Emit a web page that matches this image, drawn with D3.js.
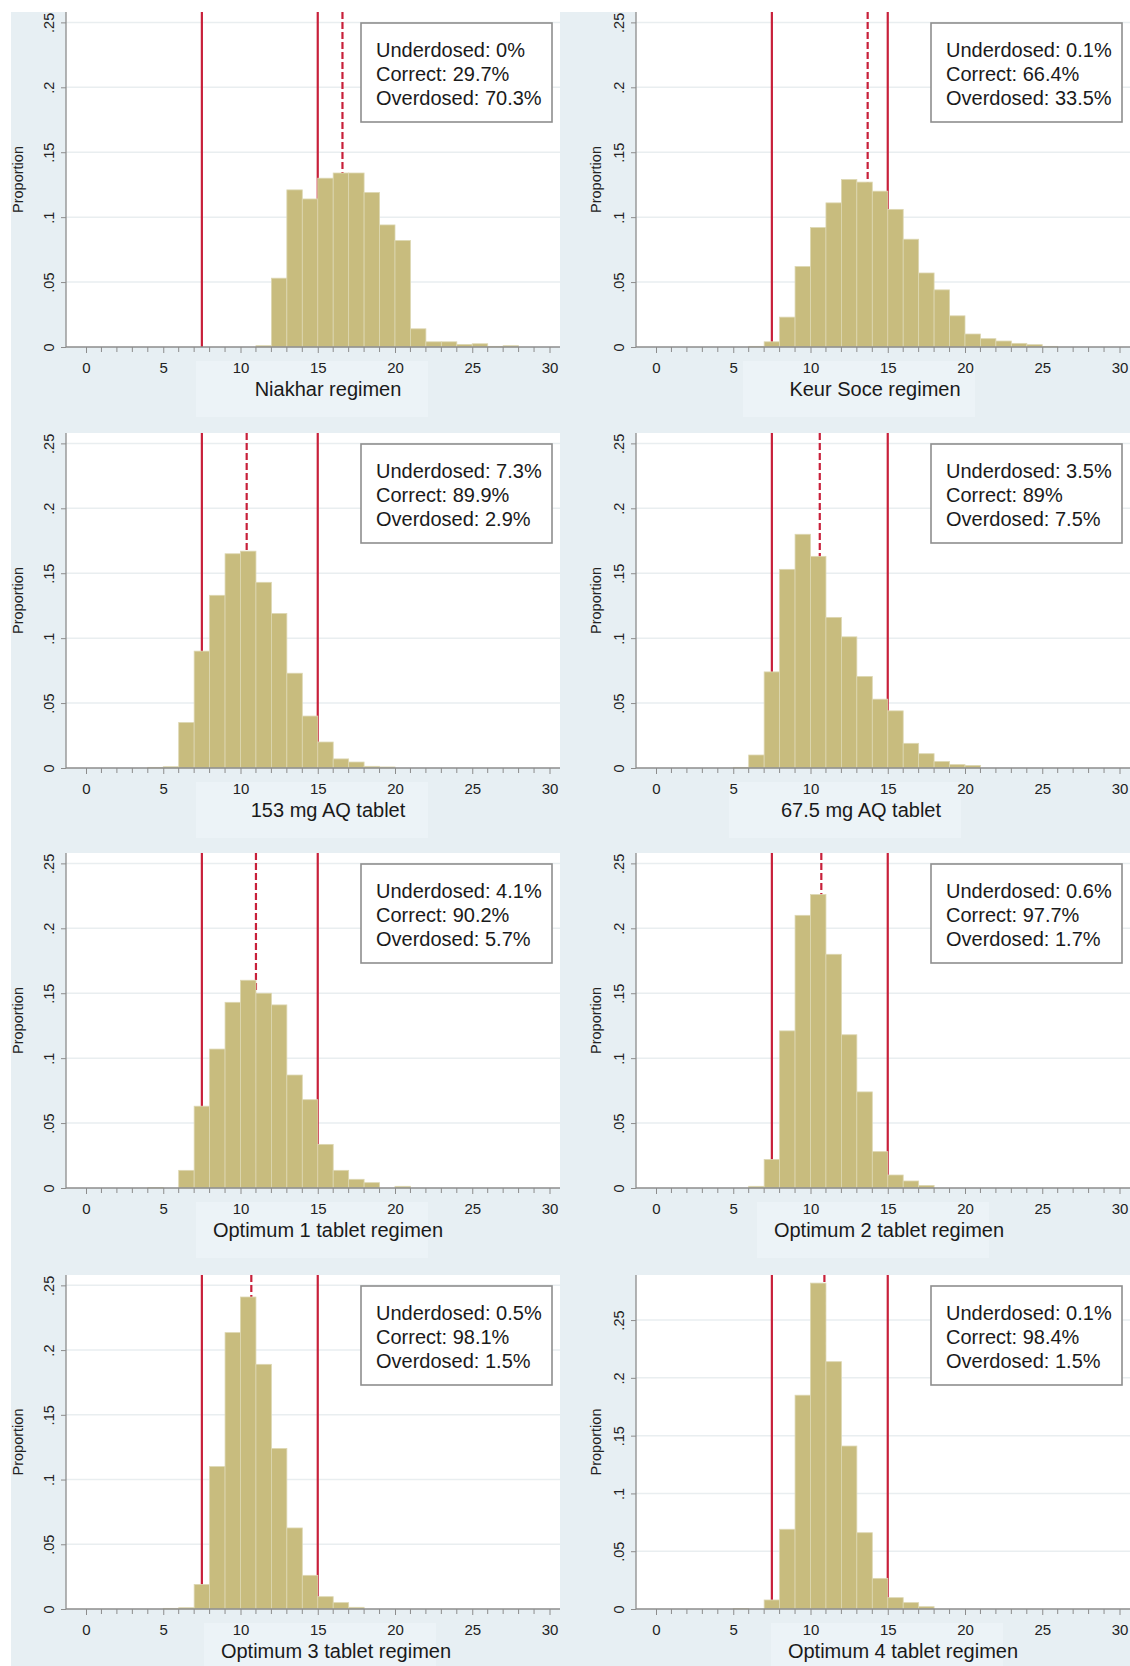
<!DOCTYPE html>
<html>
<head>
<meta charset="utf-8">
<script src="https://cdn.jsdelivr.net/npm/d3@7"></script>
<style>
  body { margin: 0; background: #fff; }
  svg { display: block; font-family: "Liberation Sans", Arial, Helvetica, sans-serif; }
</style>
</head>
<body>
<div id="chart"></div>
<script>
// ---- data ----
const titles = [
  "Niakhar regimen", "Keur Soce regimen",
  "153 mg AQ tablet", "67.5 mg AQ tablet",
  "Optimum 1 tablet regimen", "Optimum 2 tablet regimen",
  "Optimum 3 tablet regimen", "Optimum 4 tablet regimen",
];

// left edge of each 1-unit bin (dose, mg/kg)
const binStarts = [0, 1, 2, 3, 4, 5, 6, 7, 8, 9, 10, 11, 12, 13, 14, 15, 16, 17, 18, 19, 20, 21, 22, 23, 24, 25, 26, 27, 28, 29];

// proportion in each bin
const niakhar  = [0, 0, 0, 0, 0, 0, 0, 0, 0, 0, 0, 0.001, 0.053, 0.121, 0.114, 0.130, 0.134, 0.134, 0.119, 0.094, 0.082, 0.014, 0.004, 0.004, 0.002, 0.0025, 0.0005, 0.001, 0, 0];
const keurSoce = [0, 0, 0, 0, 0, 0, 0.0005, 0.004, 0.023, 0.062, 0.092, 0.111, 0.129, 0.127, 0.120, 0.106, 0.083, 0.057, 0.044, 0.024, 0.010, 0.0064, 0.0046, 0.0028, 0.0018, 0.0005, 0, 0, 0, 0];
const aq153    = [0, 0, 0, 0, 0.0005, 0.001, 0.035, 0.090, 0.133, 0.165, 0.167, 0.143, 0.119, 0.073, 0.040, 0.020, 0.007, 0.0046, 0.0013, 0.0008, 0, 0, 0, 0, 0, 0, 0, 0, 0, 0];
const aq675    = [0, 0, 0, 0, 0, 0.0005, 0.010, 0.074, 0.153, 0.180, 0.163, 0.116, 0.101, 0.0705, 0.053, 0.044, 0.019, 0.011, 0.005, 0.0026, 0.002, 0, 0, 0, 0, 0, 0, 0, 0, 0];
const opt1     = [0, 0, 0, 0, 0.0003, 0, 0.0136, 0.063, 0.107, 0.143, 0.160, 0.150, 0.141, 0.087, 0.068, 0.0336, 0.0136, 0.0067, 0.0041, 0, 0.0013, 0, 0, 0, 0, 0, 0, 0, 0, 0];
const opt2     = [0, 0, 0, 0, 0, 0, 0.0013, 0.022, 0.121, 0.210, 0.226, 0.180, 0.118, 0.074, 0.028, 0.010, 0.0054, 0.002, 0, 0, 0, 0, 0, 0, 0, 0, 0, 0, 0, 0];
const opt3     = [0, 0, 0, 0, 0, 0.0005, 0.001, 0.019, 0.110, 0.2135, 0.241, 0.189, 0.124, 0.0626, 0.026, 0.0095, 0.0049, 0.0013, 0, 0, 0, 0, 0, 0, 0, 0, 0, 0, 0, 0];
const opt4     = [0, 0, 0, 0, 0, 0.0005, 0, 0.0078, 0.069, 0.185, 0.282, 0.214, 0.141, 0.066, 0.0265, 0.0098, 0.0055, 0.002, 0, 0, 0, 0, 0, 0, 0, 0, 0, 0, 0, 0];
const series = [niakhar, keurSoce, aq153, aq675, opt1, opt2, opt3, opt4];

const underdosed = ["0%", "0.1%", "7.3%", "3.5%", "4.1%", "0.6%", "0.5%", "0.1%"];
const correct    = ["29.7%", "66.4%", "89.9%", "89%", "90.2%", "97.7%", "98.1%", "98.4%"];
const overdosed  = ["70.3%", "33.5%", "2.9%", "7.5%", "5.7%", "1.7%", "1.5%", "1.5%"];

const meanDose = [16.6, 13.7, 10.4, 10.6, 11.0, 10.7, 10.7, 10.9]; // dashed line
const limits = [7.5, 15]; // solid lines
const yTop = [0.258, 0.258, 0.258, 0.258, 0.258, 0.258, 0.258, 0.289];

const yTicks = [0, 0.05, 0.1, 0.15, 0.2, 0.25];
const yTickLabels = ["0", ".05", ".1", ".15", ".2", ".25"];
const xMajor = [0, 5, 10, 15, 20, 25, 30];
const xMinor = [1, 2, 3, 4, 6, 7, 8, 9, 11, 12, 13, 14, 16, 17, 18, 19, 21, 22, 23, 24, 26, 27, 28, 29];

// ---- layout ----
const WIDTH = 1130, HEIGHT = 1666;
const AXIS_X = [66, 636];
const PROP_X = [18, 596];
const ROW_TOP = [12, 433, 853, 1275];
const ROW_BOTTOM = [347, 768, 1188, 1609];
const PLOT_W = 494;
const ZERO_PAD = 20;
const UNIT = 15.45;
const TITLE_X = [328, 875, 328, 861, 328, 889, 336, 903];

const BG = "#e7eff3", RED = "#c8203a", BAR = "#c8bc7e", BAR_EDGE = "#ddd7b2";

const svg = d3.select("#chart").append("svg")
  .attr("width", WIDTH)
  .attr("height", HEIGHT);

svg.append("rect").attr("width", WIDTH).attr("height", HEIGHT).attr("fill", "#fff");
svg.append("rect").attr("x", 11).attr("y", 12)
  .attr("width", WIDTH - 11).attr("height", HEIGHT - 12).attr("fill", BG);

series.forEach((values, i) => {
  const col = i % 2, row = Math.floor(i / 2);
  const ax = AXIS_X[col], top = ROW_TOP[row], bottom = ROW_BOTTOM[row];

  const x = d3.scaleLinear().domain([0, 30]).range([ax + ZERO_PAD, ax + ZERO_PAD + 30 * UNIT]);
  const y = d3.scaleLinear().domain([0, yTop[i]]).range([bottom, top]);

  const g = svg.append("g");

  // faint lighter patch behind the x title (as in the scan)
  g.append("rect")
    .attr("x", TITLE_X[i] - 132).attr("y", bottom + 14)
    .attr("width", 232).attr("height", 56)
    .attr("fill", "#ecf3f7");

  // plot region
  g.append("rect")
    .attr("x", ax).attr("y", top)
    .attr("width", PLOT_W).attr("height", bottom - top)
    .attr("fill", "#fff");

  // grid
  g.append("g").selectAll("line")
    .data(yTicks.slice(1))
    .join("line")
    .attr("x1", ax).attr("x2", ax + PLOT_W)
    .attr("y1", (d) => y(d)).attr("y2", (d) => y(d))
    .attr("stroke", "#e9eef0").attr("stroke-width", 1.5);

  // reference lines (behind the bars)
  g.append("g").selectAll("line")
    .data(limits)
    .join("line")
    .attr("x1", (d) => x(d)).attr("x2", (d) => x(d))
    .attr("y1", top).attr("y2", bottom)
    .attr("stroke", RED).attr("stroke-width", 2.2);

  g.append("line")
    .attr("x1", x(meanDose[i])).attr("x2", x(meanDose[i]))
    .attr("y1", top).attr("y2", bottom)
    .attr("stroke", RED).attr("stroke-width", 2.2)
    .attr("stroke-dasharray", "7,3");

  // bars
  g.append("g").selectAll("rect")
    .data(binStarts.map((b, k) => ({ b: b, v: values[k] })).filter((d) => d.v > 0))
    .join("rect")
    .attr("x", (d) => x(d.b))
    .attr("y", (d) => y(d.v))
    .attr("width", (d) => x(d.b + 1) - x(d.b))
    .attr("height", (d) => bottom - y(d.v))
    .attr("fill", BAR)
    .attr("stroke", BAR_EDGE)
    .attr("stroke-width", 0.8);

  // y axis
  const yAxis = g.append("g").attr("transform", `translate(${ax},0)`)
    .call(d3.axisLeft(y).tickValues(yTicks).tickFormat((d, k) => yTickLabels[k]).tickSize(5).tickPadding(6));
  yAxis.select(".domain").attr("stroke", "#8c8c8c").attr("stroke-width", 1.3)
    .attr("d", `M0,${top}V${bottom}`);
  yAxis.selectAll(".tick line").attr("stroke", "#8c8c8c");
  yAxis.selectAll(".tick text")
    .attr("font-size", 14.5).attr("fill", "#222")
    .attr("text-anchor", "middle")
    .attr("dy", null)
    .attr("x", null)
    .attr("transform", "translate(-17,0) rotate(-90)")
    .attr("dominant-baseline", "central");

  // x axis
  const xAxis = g.append("g").attr("transform", `translate(0,${bottom})`)
    .call(d3.axisBottom(x).tickValues(xMajor).tickSize(6).tickPadding(9));
  xAxis.select(".domain").attr("stroke", "#8c8c8c").attr("stroke-width", 1.3)
    .attr("d", `M${ax},0H${ax + PLOT_W}`);
  xAxis.selectAll(".tick line").attr("stroke", "#8c8c8c");
  xAxis.selectAll(".tick text").attr("font-size", 15).attr("fill", "#222");

  g.append("g").attr("transform", `translate(0,${bottom})`)
    .selectAll("line")
    .data(xMinor)
    .join("line")
    .attr("x1", (d) => x(d)).attr("x2", (d) => x(d))
    .attr("y1", 0).attr("y2", 5)
    .attr("stroke", "#8c8c8c");

  // titles
  g.append("text")
    .attr("x", TITLE_X[i]).attr("y", bottom + 49)
    .attr("text-anchor", "middle")
    .attr("font-size", 20).attr("fill", "#1a1a1a")
    .text(titles[i]);

  g.append("text")
    .attr("transform", `translate(${PROP_X[col]},${(top + bottom) / 2}) rotate(-90)`)
    .attr("text-anchor", "middle")
    .attr("dominant-baseline", "central")
    .attr("font-size", 14.5).attr("fill", "#222")
    .text("Proportion");

  // legend box
  const bx = ax + 295, by = top + 11;
  g.append("rect")
    .attr("x", bx).attr("y", by)
    .attr("width", 191).attr("height", 99)
    .attr("fill", "#fff").attr("stroke", "#8e8e8e").attr("stroke-width", 1.6);

  const lines = [
    `Underdosed: ${underdosed[i]}`,
    `Correct: ${correct[i]}`,
    `Overdosed: ${overdosed[i]}`,
  ];
  g.append("g").selectAll("text")
    .data(lines)
    .join("text")
    .attr("x", bx + 15)
    .attr("y", (d, k) => by + 34 + k * 24)
    .attr("font-size", 20).attr("fill", "#1a1a1a")
    .text((d) => d);
});
</script>
</body>
</html>
